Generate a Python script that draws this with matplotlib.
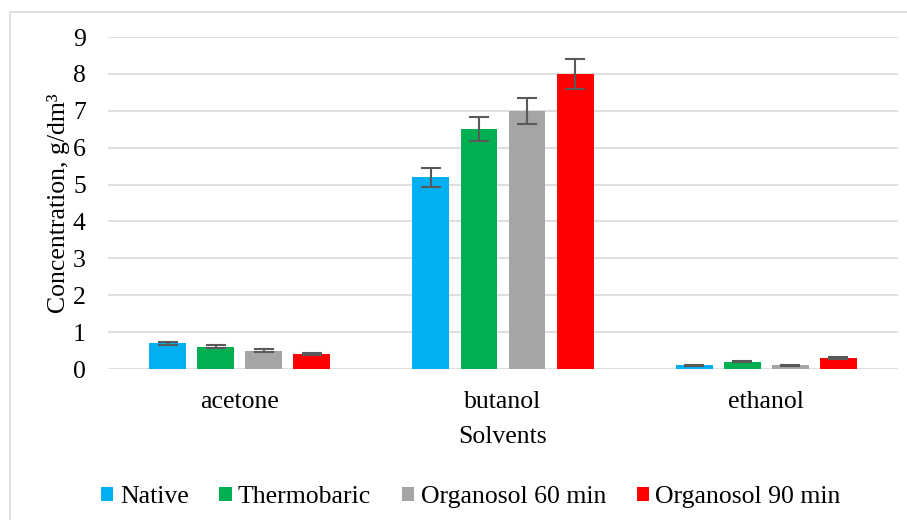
import numpy as np
import matplotlib.pyplot as plt
from matplotlib.patches import Rectangle

solvents = ['acetone', 'butanol', 'ethanol']
series = ['Native', 'Thermobaric', 'Organosol 60 min', 'Organosol 90 min']
native = [0.7, 5.2, 0.1]
thermobaric = [0.6, 6.5, 0.2]
organosol_60 = [0.5, 7.0, 0.1]
organosol_90 = [0.4, 8.0, 0.3]
native_err = [0.04, 0.26, 0.02]
thermobaric_err = [0.04, 0.33, 0.02]
organosol_60_err = [0.03, 0.35, 0.02]
organosol_90_err = [0.03, 0.40, 0.03]

values = [native, thermobaric, organosol_60, organosol_90]
errors = [native_err, thermobaric_err, organosol_60_err, organosol_90_err]
colors = ['#00B0F0', '#00B050', '#A5A5A5', '#FF0000']

plt.rcParams['font.family'] = ['Liberation Serif', 'DejaVu Serif']
fs = 18.5

fig = plt.figure(figsize=(9.07, 5.2), dpi=100)
# light frame like the chart area border
fig.patches.append(Rectangle((10 / 907, -0.1), 1.2, 1 - 12 / 520 + 0.1,
                             transform=fig.transFigure, fill=False,
                             edgecolor='#D9D9D9', linewidth=1.2))

ax = fig.add_axes([108 / 907, 1 - 369 / 520, 790 / 907, 332 / 520])
x = np.arange(len(solvents))
step = 0.1825
width = 0.14
for i in range(len(series)):
    ax.bar(x + (i - 1.5) * step, values[i], width, color=colors[i],
           label=series[i], zorder=3,
           yerr=errors[i], error_kw=dict(ecolor='#595959', elinewidth=1.5,
                                         capsize=7, capthick=1.5, zorder=4))

ax.set_xlim(-0.5, 2.5)
ax.set_ylim(0, 9)
ax.set_yticks(range(10))
ax.set_xticks(x)
ax.set_xticklabels(solvents)
ax.grid(axis='y', color='#D9D9D9', linewidth=1.2, zorder=0)
for s in ax.spines.values():
    s.set_visible(False)
ax.tick_params(axis='both', length=0, labelsize=fs)
ax.tick_params(axis='y', pad=16)
ax.tick_params(axis='x', pad=16)
ax.set_xlabel('Solvents', fontsize=fs, labelpad=9)
ax.set_ylabel('Concentration, g/dm³', fontsize=fs, labelpad=2)

fig.legend(loc='center', bbox_to_anchor=(471 / 907, 1 - 497 / 520), ncol=4,
           frameon=False, fontsize=fs, handlelength=0.47, handleheight=0.47,
           handletextpad=0.25, columnspacing=1.2)

fig.savefig('out.png', dpi=100)
